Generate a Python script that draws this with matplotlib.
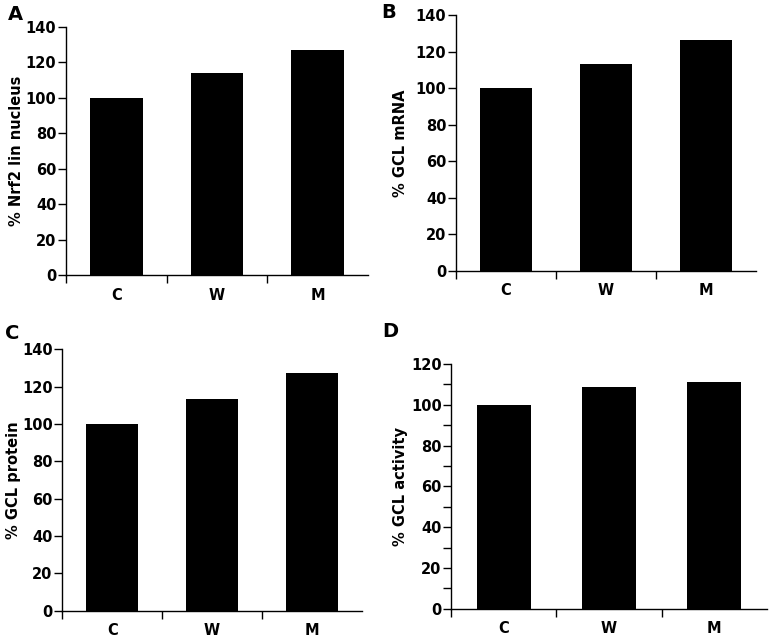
import numpy as np
import matplotlib
matplotlib.use('Agg')
import matplotlib.pyplot as plt
from matplotlib.ticker import FixedLocator, MultipleLocator

plt.rcParams['font.family'] = ['DejaVu Sans']
plt.rcParams['font.weight'] = 'bold'

W, H = 777, 637

groups = ['C', 'W', 'M']
nrf2_nucleus = [100, 114, 127]
gcl_mrna = [100, 113, 126.5]
gcl_protein = [100, 113.5, 127.5]
gcl_activity = [100, 108.5, 111]

# (letra, ylabel, valores, ymax, caja en pixeles: left, top, right, bottom, borde derecho del ylabel, pos letra)
paneles = [
    ('A', '% Nrf2 lin nucleus', nrf2_nucleus, 140, (66, 26.7, 368, 275.3), 24, (8, 5)),
    ('B', '% GCL mRNA', gcl_mrna, 140, (456, 15, 756, 270.7), 408, (381, 3)),
    ('C', '% GCL protein', gcl_protein, 140, (62.3, 349.3, 361.7, 610.7), 21, (5, 324)),
    ('D', '% GCL activity', gcl_activity, 120, (451.3, 364, 766.7, 608.7), 408, (382, 322)),
]

fig = plt.figure(figsize=(W/100, H/100), dpi=100)

for letra, ylab, vals, ymax, (l, t, r, b), xlab, (lx, ly) in paneles:
    ax = fig.add_axes([l/W, 1 - b/H, (r - l)/W, (b - t)/H])
    x = np.arange(len(groups))
    ax.bar(x, vals, width=0.52, color='black')
    ax.set_xlim(-0.5, 2.5)
    ax.set_ylim(0, ymax)
    ax.spines['top'].set_visible(False)
    ax.spines['right'].set_visible(False)
    for s in ['left', 'bottom']:
        ax.spines[s].set_linewidth(1.0)

    ax.set_xticks(x)
    ax.set_xticklabels(groups)
    ax.xaxis.set_minor_locator(FixedLocator([-0.5, 0.5, 1.5]))
    ax.tick_params(axis='x', which='major', length=0, pad=9, labelsize=10.5)
    ax.tick_params(axis='x', which='minor', length=6, width=1.0, direction='out')

    ax.yaxis.set_major_locator(MultipleLocator(20))
    if letra == 'D':
        ax.yaxis.set_minor_locator(MultipleLocator(10))
        ax.tick_params(axis='y', which='minor', length=6, width=1.0)
    ax.tick_params(axis='y', which='major', length=6, width=1.0, pad=1, labelsize=10.5)
    for lbl in ax.get_xticklabels() + ax.get_yticklabels():
        lbl.set_fontweight('bold')

    ax.set_ylabel(ylab, fontsize=10.5, fontweight='bold')
    ax.yaxis.set_label_coords((xlab - l)/(r - l), 0.5)

    fig.text(lx/W, 1 - ly/H, letra, fontsize=14, fontweight='bold', ha='left', va='top')

fig.savefig('out.png', dpi=100)
